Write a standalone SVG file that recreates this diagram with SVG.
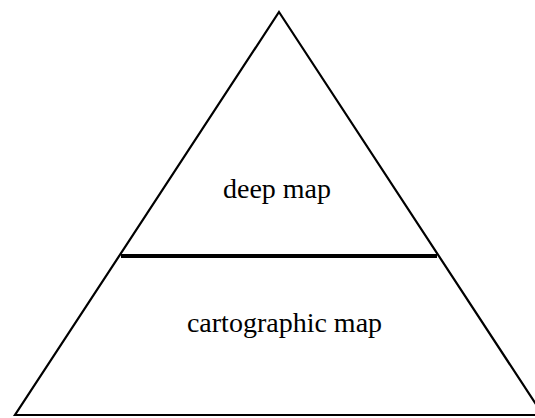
<svg xmlns="http://www.w3.org/2000/svg" width="535" height="418" viewBox="0 0 535 418">
<style>
.edge{fill:none;stroke:#000;stroke-width:2.2;stroke-linejoin:miter}
.div{stroke:#000;stroke-width:4}
.lbl{font-family:"Liberation Serif","Times New Roman",serif;font-size:28px;fill:#000;text-anchor:middle}
</style>
<rect width="535" height="418" fill="#fff"/>
<g id="connectors">
<line class="div" x1="121" y1="256" x2="437" y2="256"/>
</g>
<g id="pyramid">
<polygon class="edge" points="279,12 543,415 15,415"/>
</g>
<g id="deep-map"><text class="lbl" x="277" y="198">deep map</text></g>
<g id="cartographic-map"><text class="lbl" x="284.5" y="332">cartographic map</text></g>
</svg>
